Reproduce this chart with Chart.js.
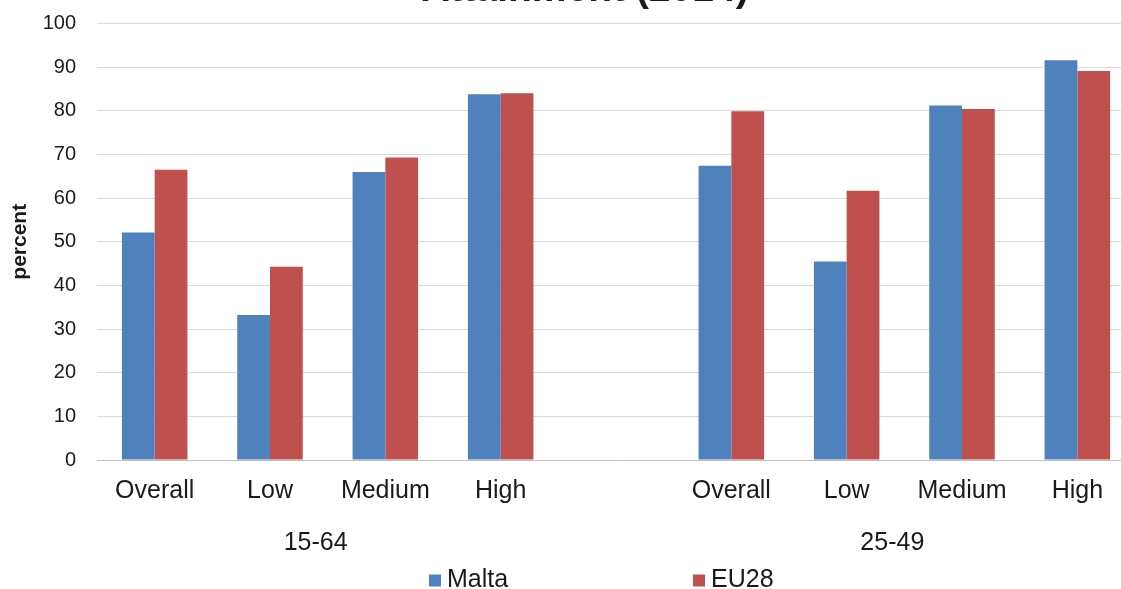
<!DOCTYPE html>
<html>
<head>
<meta charset="utf-8">
<script src="https://cdn.jsdelivr.net/npm/chart.js@4"></script>
<style>
  html, body { margin: 0; padding: 0; background: #fff; overflow: hidden; }
  #frame { position: relative; width: 1121px; height: 589px; overflow: hidden; }
  #wrap { position: absolute; left: 0; top: -60px; width: 1172px; height: 649px; }
</style>
</head>
<body>
<div id="frame"><div id="wrap"><canvas id="c" width="1172" height="649"></canvas></div></div>
<script>
// Employment rate by educational attainment, Malta vs EU28, 2014
const categories = ['Overall', 'Low', 'Medium', 'High', '', 'Overall', 'Low', 'Medium', 'High'];
const malta = [52.1, 33.2, 66.0, 83.8, null, 67.4, 45.5, 81.2, 91.6];
const eu28  = [66.5, 44.3, 69.3, 84.0, null, 79.9, 61.7, 80.4, 89.1];
const seriesNames = ['Malta', 'EU28'];
const ageGroups = ['15-64', '25-49'];
const ageGroupSpans = [[0, 3], [5, 8]];   // first and last category index of each age group
const yTicks = { min: 0, max: 100, step: 10 };

const FONT = '"Liberation Sans", Arial, sans-serif';
const TEXT = '#1a1a1a';
const COLORS = ['#4F81BD', '#C0504D'];

// Second row of category labels: age group names centred under their categories
const groupLabels = {
  id: 'groupLabels',
  afterDraw(chart, args, opts) {
    const x = chart.scales.x;
    const ctx = chart.ctx;
    ctx.save();
    ctx.font = opts.font;
    ctx.fillStyle = TEXT;
    ctx.textAlign = 'center';
    ctx.textBaseline = 'alphabetic';
    ageGroupSpans.forEach((s, i) => {
      const cx = (x.getPixelForValue(s[0]) + x.getPixelForValue(s[1])) / 2 + opts.shift;
      ctx.fillText(ageGroups[i], cx, x.bottom + opts.offset);
    });
    ctx.restore();
  }
};

// Bottom legend with fixed-width entries
const bottomLegend = {
  id: 'bottomLegend',
  afterDraw(chart, args, opts) {
    const ctx = chart.ctx;
    ctx.save();
    ctx.font = opts.font;
    ctx.textBaseline = 'alphabetic';
    ctx.textAlign = 'left';
    chart.data.datasets.forEach((ds, i) => {
      const x = opts.left + i * opts.itemWidth;
      ctx.fillStyle = ds.backgroundColor;
      ctx.fillRect(x, opts.baseline - opts.box, opts.box, opts.box);
      ctx.fillStyle = TEXT;
      ctx.fillText(ds.label, x + opts.box + opts.gap, opts.baseline);
    });
    ctx.restore();
  }
};

new Chart(document.getElementById('c'), {
  type: 'bar',
  data: {
    labels: categories,
    datasets: [
      { label: seriesNames[0], data: malta, backgroundColor: COLORS[0] },
      { label: seriesNames[1], data: eu28, backgroundColor: COLORS[1] }
    ]
  },
  options: {
    responsive: false,
    animation: false,
    devicePixelRatio: 1,
    layout: { padding: { top: 27, left: 35, right: 37, bottom: 67 } },
    datasets: { bar: { barPercentage: 1, categoryPercentage: 0.568 } },
    plugins: {
      legend: { display: false },
      tooltip: { enabled: false },
      title: {
        display: true,
        text: 'Attainment (2014)',
        color: TEXT,
        font: { family: FONT, size: 39, weight: 'bold', lineHeight: 1.2 },
        padding: { top: 0, bottom: 9.7 }
      },
      groupLabels: { font: '25px ' + FONT, offset: 28, shift: -12 },
      bottomLegend: { left: 429, itemWidth: 264, baseline: 646.5, box: 12, gap: 6, font: '25px ' + FONT }
    },
    scales: {
      x: {
        type: 'category',
        position: 'bottom',
        grid: { display: false, drawTicks: false },
        border: { display: true, color: '#bfbfbf', width: 1 },
        ticks: { color: TEXT, font: { family: FONT, size: 25, lineHeight: 1.2 }, padding: 16, maxRotation: 0, autoSkip: false }
      },
      y: {
        min: yTicks.min,
        max: yTicks.max,
        afterFit(scale) { scale.width = 62; },
        grid: { color: '#d9d9d9', lineWidth: 1, drawTicks: false },
        border: { display: false },
        ticks: { stepSize: yTicks.step, color: TEXT, font: { family: FONT, size: 20 }, padding: 21 },
        title: {
          display: true,
          text: 'percent',
          color: TEXT,
          font: { family: FONT, size: 21, weight: 'bold', lineHeight: 1.2 },
          padding: { top: -27.6, bottom: 0 }
        }
      }
    }
  },
  plugins: [groupLabels, bottomLegend]
});
</script>
</body>
</html>
